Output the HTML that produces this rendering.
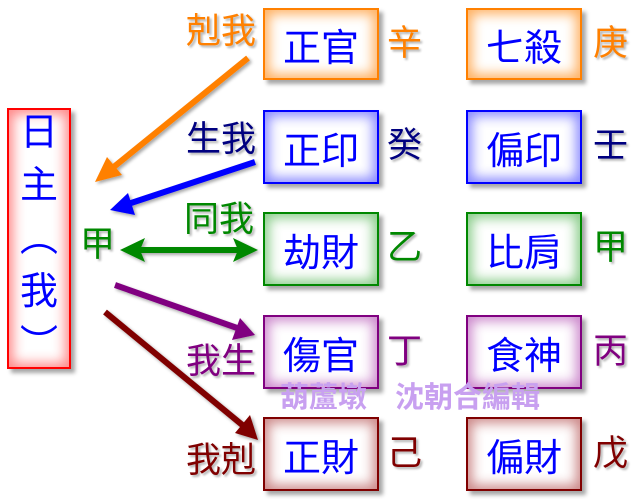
<!DOCTYPE html><html><head><meta charset="utf-8"><style>
body{margin:0;width:640px;height:499px;background:#fff;position:relative;overflow:hidden;font-family:"Liberation Sans","Noto Sans CJK TC",sans-serif}
.b{position:absolute;box-sizing:border-box;border:2px solid;display:flex;align-items:center;justify-content:center;font-size:38px;color:#00f;background:#fff;box-shadow:4px 4px 4px rgba(0,0,0,.35)}
.b span{position:relative}
.t{position:absolute;font-size:35px;line-height:1;text-shadow:2px 2px 2px rgba(0,0,0,.3)}
.w{position:absolute;top:384px;font-size:29px;font-weight:bold;color:#c8a0f0;white-space:nowrap;line-height:1}
</style></head><body>
<div class="b" style="left:7px;top:108px;width:64px;height:261px;border-color:#f00;box-shadow:inset 0 0 12px 4px #f88,4px 4px 4px rgba(0,0,0,.35);flex-direction:column;font-size:38px;line-height:1.4;padding-top:2px"><span>日</span><span>主</span><span>︵</span><span>我</span><span>︶</span></div>
<svg width="640" height="499" style="position:absolute;left:0;top:0">
<defs><filter id="s"><feDropShadow dx="2" dy="2" stdDeviation="1.5" flood-opacity=".35"/></filter></defs>
<g filter="url(#s)" stroke-width="6" fill="none">
<line x1="248" y1="58" x2="110" y2="170" stroke="#ff8000"/><polygon points="95,182 107,157 122,175" fill="#ff8000" stroke="none"/>
<line x1="255" y1="162" x2="125" y2="205" stroke="#00f"/><polygon points="110,210 128,193 135,215" fill="#00f" stroke="none"/>
<line x1="135" y1="250" x2="243" y2="250" stroke="#080"/><polygon points="120,250 145,238 140,250 145,262" fill="#080" stroke="none"/><polygon points="258,250 233,238 238,250 233,262" fill="#080" stroke="none"/>
<line x1="115" y1="285" x2="240" y2="329" stroke="#800080"/><polygon points="255,335 232,340 240,318" fill="#800080" stroke="none"/>
<line x1="105" y1="312" x2="246" y2="428" stroke="#800000"/><polygon points="258,440 235,433 250,415" fill="#800000" stroke="none"/>
</g></svg>
<div class="t" style="left:186px;top:14px;color:#ff8000">剋我</div>
<div class="t" style="left:186px;top:122px;color:#000080">生我</div>
<div class="t" style="left:184px;top:202px;color:#080">同我</div>
<div class="t" style="left:80px;top:227px;color:#080">甲</div>
<div class="t" style="left:186px;top:344px;color:#800080">我生</div>
<div class="t" style="left:186px;top:443px;color:#800000">我剋</div>

<div class="b" style="left:263px;top:8px;width:116px;height:72px;border-color:#ff8000;box-shadow:inset 0 0 12px 4px #ffb060,4px 4px 4px rgba(0,0,0,.35)"><span>正官</span></div>
<div class="b" style="left:466px;top:8px;width:116px;height:72px;border-color:#ff8000;box-shadow:inset 0 0 12px 4px #ffb060,4px 4px 4px rgba(0,0,0,.35)"><span>七殺</span></div>
<div class="t" style="left:387px;top:26px;color:#ff8000">辛</div><div class="t" style="left:593px;top:26px;color:#ff8000">庚</div>

<div class="b" style="left:263px;top:110px;width:116px;height:74px;border-color:#00f;box-shadow:inset 0 0 12px 4px #88f,4px 4px 4px rgba(0,0,0,.35)"><span>正印</span></div>
<div class="b" style="left:466px;top:110px;width:116px;height:74px;border-color:#00f;box-shadow:inset 0 0 12px 4px #88f,4px 4px 4px rgba(0,0,0,.35)"><span>偏印</span></div>
<div class="t" style="left:387px;top:128px;color:#000080">癸</div><div class="t" style="left:593px;top:128px;color:#000080">壬</div>

<div class="b" style="left:263px;top:212px;width:116px;height:74px;border-color:#080;box-shadow:inset 0 0 12px 4px #8c8,4px 4px 4px rgba(0,0,0,.35)"><span>劫財</span></div>
<div class="b" style="left:466px;top:212px;width:116px;height:74px;border-color:#080;box-shadow:inset 0 0 12px 4px #8c8,4px 4px 4px rgba(0,0,0,.35)"><span>比肩</span></div>
<div class="t" style="left:387px;top:230px;color:#080">乙</div><div class="t" style="left:593px;top:230px;color:#080">甲</div>

<div class="b" style="left:263px;top:315px;width:116px;height:74px;border-color:#800080;box-shadow:inset 0 0 12px 4px #c8c,4px 4px 4px rgba(0,0,0,.35)"><span>傷官</span></div>
<div class="b" style="left:466px;top:315px;width:116px;height:74px;border-color:#800080;box-shadow:inset 0 0 12px 4px #c8c,4px 4px 4px rgba(0,0,0,.35)"><span>食神</span></div>
<div class="t" style="left:387px;top:334px;color:#800080">丁</div><div class="t" style="left:593px;top:334px;color:#800080">丙</div>

<div class="b" style="left:263px;top:417px;width:116px;height:74px;border-color:#800000;box-shadow:inset 0 0 12px 4px #c88,4px 4px 4px rgba(0,0,0,.35)"><span>正財</span></div>
<div class="b" style="left:466px;top:417px;width:116px;height:74px;border-color:#800000;box-shadow:inset 0 0 12px 4px #c88,4px 4px 4px rgba(0,0,0,.35)"><span>偏財</span></div>
<div class="t" style="left:387px;top:436px;color:#800000">己</div><div class="t" style="left:593px;top:436px;color:#800000">戊</div>

<div class="w" style="left:280px">葫蘆墩</div>
<div class="w" style="left:395px">沈朝合編輯</div>
</body></html>
